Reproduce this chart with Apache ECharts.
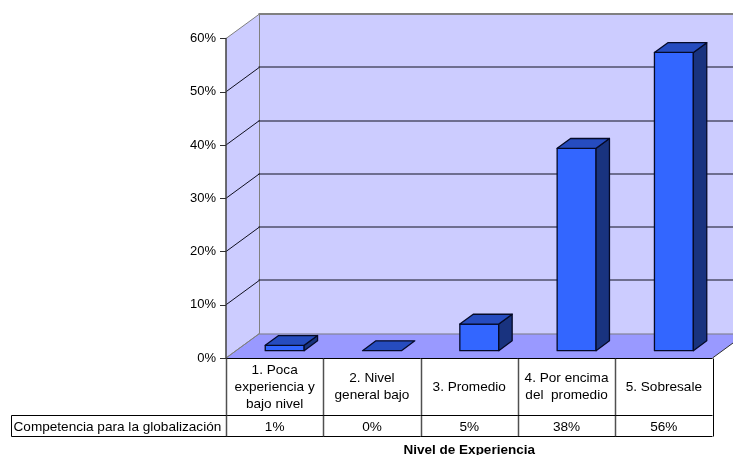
<!DOCTYPE html>
<html>
<head>
<meta charset="utf-8">
<style>html,body{margin:0;padding:0;background:#fff}#chart{width:733px;height:455px}</style>
<script src="https://cdn.jsdelivr.net/npm/echarts@6/dist/echarts.min.js"></script>
</head>
<body>
<div id="chart"></div>
<script>
// Survey results: share of respondents per experience level
const categories = ['1. Poca\nexperiencia y\nbajo nivel', '2. Nivel\ngeneral bajo', '3. Promedio', '4. Por encima\ndel  promedio', '5. Sobresale'];
const seriesName = 'Competencia para la globalización';
const values = [1, 0, 5, 38, 56];
const yTicks = [0, 10, 20, 30, 40, 50, 60];
const axisTitle = 'Nivel de Experiencia';

// Oblique projection of the box: how far the back plane is shifted from the front
const DEPTH_X = 33.5, DEPTH_Y = -24.5;
const BAR_NEAR = 0.3, BAR_FAR = 0.7, BAR_WIDTH = 0.4;
const FONT = '"Liberation Sans", Arial, sans-serif';
const WALL = '#CCCCFF', FLOOR = '#9999FF', EDGE = '#808080';
const FRONT = '#3366FF', TOP = '#264CBF', SIDE = '#19337F';
const snap = v => Math.round(v) + 0.5;

const line = (x1, y1, x2, y2, stroke, width) => ({
  type: 'line', shape: { x1, y1, x2, y2 }, style: { stroke, lineWidth: width || 1, fill: null }
});
const poly = (points, fill, stroke, width) => ({
  type: 'polygon', shape: { points }, style: { fill, stroke: stroke || null, lineWidth: width || 1, lineJoin: 'round' }
});

// Walls and floor of the box, then one gridline per tick
function renderWalls(params, api) {
  const cs = params.coordSys;
  const left = cs.x, right = cs.x + cs.width, top = cs.y, bottom = cs.y + cs.height;
  const children = [];
  if (params.dataIndex === 0) {
    children.push(
      poly([[left + DEPTH_X, top + DEPTH_Y], [right + DEPTH_X, top + DEPTH_Y], [right + DEPTH_X, bottom + DEPTH_Y], [left + DEPTH_X, bottom + DEPTH_Y]], WALL),
      poly([[left, top], [left + DEPTH_X, top + DEPTH_Y], [left + DEPTH_X, bottom + DEPTH_Y], [left, bottom]], WALL),
      poly([[left, bottom], [right, bottom], [right + DEPTH_X, bottom + DEPTH_Y], [left + DEPTH_X, bottom + DEPTH_Y]], FLOOR),
      line(snap(left + DEPTH_X) - 1, top + DEPTH_Y, snap(left + DEPTH_X) - 1, bottom + DEPTH_Y, EDGE),
      line(left, bottom, left + DEPTH_X, bottom + DEPTH_Y, EDGE),
      line(right, bottom, right + DEPTH_X, bottom + DEPTH_Y, '#303030')
    );
  }
  const y = api.coord([0, api.value(0)])[1];
  const isTop = params.dataIndex === yTicks.length - 1, isBase = params.dataIndex === 0;
  const color = isTop || isBase ? EDGE : '#101020';
  const width = isTop ? 2 : 1;
  children.push(
    line(left, y, left + DEPTH_X, y + DEPTH_Y, color),
    line(left + DEPTH_X - 1, snap(y + DEPTH_Y) - 0.5, right + DEPTH_X, snap(y + DEPTH_Y) - 0.5, color, width)
  );
  return { type: 'group', children };
}

// One oblique box per category, standing between the near and far depth fractions
function renderBar(params, api) {
  const base = api.coord([api.value(0), 0]);
  const head = api.coord([api.value(0), api.value(1)]);
  const w = api.size([1, 0])[0] * BAR_WIDTH;
  const x0 = base[0] - w / 2 + DEPTH_X * BAR_NEAR, x1 = x0 + w;
  const yB = base[1] + DEPTH_Y * BAR_NEAR, yT = head[1] + DEPTH_Y * BAR_NEAR;
  const dx = DEPTH_X * (BAR_FAR - BAR_NEAR), dy = DEPTH_Y * (BAR_FAR - BAR_NEAR);
  const outline = '#050A28', weight = 1.3;
  const parts = [];
  if (yB - yT > 0.5) {
    parts.push(poly([[x0, yT], [x1, yT], [x1, yB], [x0, yB]], FRONT, outline, weight));
    parts.push(poly([[x1, yT], [x1 + dx, yT + dy], [x1 + dx, yB + dy], [x1, yB]], SIDE, outline, weight));
  }
  parts.push(poly([[x0, yT], [x0 + dx, yT + dy], [x1 + dx, yT + dy], [x1, yT]], TOP, outline, weight));
  return { type: 'group', children: parts };
}

// Data table under the plot: one column per category plus the row header
const ROW1 = 57, ROW2 = 78, HEADER_LEFT = 11.5;
function renderTable(params, api) {
  const cs = params.coordSys;
  const bottom = snap(cs.y + cs.height);
  const c = api.coord([api.value(0), 0]);
  const w = api.size([1, 0])[0];
  const xl = cs.x + params.dataIndex * w;
  const xr = xl + w;
  const y1 = bottom + ROW1, y2 = bottom + ROW2;
  const lastColumn = params.dataIndex === values.length - 1;
  const children = [
    line(snap(xr), bottom, snap(xr), y2, lastColumn ? '#000' : '#505050', lastColumn ? 1 : 1.5),
    line(xl, bottom, xr, bottom, '#000'),
    line(xl, y1, xr, y1, '#000'),
    line(xl, y2, xr, y2, '#000'),
    { type: 'text', style: { x: c[0], y: (y1 + y2) / 2 + 1, text: api.value(1) + '%', align: 'center', verticalAlign: 'middle', font: '13.6px ' + FONT, fill: '#000' } }
  ];
  if (params.dataIndex === 0) {
    const xa = snap(cs.x);
    children.push(
      line(xa, bottom, xa, y2, '#505050', 1.5),
      line(HEADER_LEFT, y1, xa, y1, '#000'),
      line(HEADER_LEFT, y2, xa, y2, '#000'),
      line(HEADER_LEFT, y1, HEADER_LEFT, y2, '#000'),
      { type: 'text', style: { x: HEADER_LEFT + 2, y: (y1 + y2) / 2 + 1, text: seriesName, align: 'left', verticalAlign: 'middle', font: '13.6px ' + FONT, fill: '#000' } }
    );
  }
  return { type: 'group', children };
}

const chart = echarts.init(document.getElementById('chart'), null, { renderer: 'canvas' });
chart.setOption({
  animation: false,
  backgroundColor: '#fff',
  grid: { left: 226, top: 38.5, width: 486.5, height: 319.5, containLabel: false, outerBoundsMode: 'none' },
  xAxis: {
    type: 'category',
    data: categories,
    z: 6,
    axisLine: { show: false },
    axisTick: { show: false },
    axisLabel: { interval: 0, margin: 29, verticalAlign: 'middle', lineHeight: 17, fontFamily: FONT, fontSize: 13.6, color: '#000' },
    name: axisTitle,
    nameLocation: 'middle',
    nameGap: 85,
    nameTextStyle: { fontFamily: FONT, fontSize: 13.5, fontWeight: 'bold', color: '#000' }
  },
  yAxis: {
    type: 'value',
    min: 0,
    max: 60,
    interval: 10,
    z: 6,
    splitLine: { show: false },
    axisLine: { show: true, lineStyle: { color: '#404040', width: 1.5 } },
    axisTick: { show: true, length: 6, lineStyle: { color: '#303030' } },
    axisLabel: { margin: 10, formatter: '{value}%', fontFamily: FONT, fontSize: 13, color: '#000' }
  },
  series: [
    { type: 'custom', name: 'walls', z: 1, renderItem: renderWalls, data: yTicks.map(t => [t]), encode: { y: 0 }, silent: true },
    { type: 'custom', name: seriesName, z: 3, renderItem: renderBar, data: values.map((v, i) => [i, v]), encode: { x: 0, y: 1 } },
    { type: 'custom', name: 'table', z: 5, renderItem: renderTable, data: values.map((v, i) => [i, v]), encode: { x: 0, y: 1 }, silent: true }
  ]
});
</script>
</body>
</html>
